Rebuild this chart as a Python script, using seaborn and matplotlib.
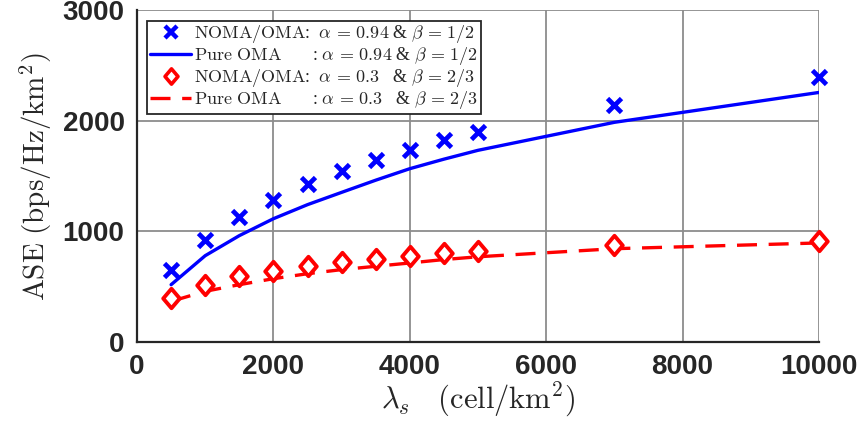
import numpy as np
import pandas as pd
import matplotlib
matplotlib.use("Agg")
import matplotlib.pyplot as plt
import seaborn as sns
from matplotlib.lines import Line2D
from matplotlib.path import Path

# Cell density (cells/km^2)
lam = [500, 1000, 1500, 2000, 2500, 3000, 3500, 4000, 4500, 5000, 7000, 10000]

# Area spectral efficiency, alpha = 0.94, beta = 1/2
noma_a94 = [647, 925, 1130, 1286, 1431, 1542, 1648, 1738, 1822, 1901, 2145, 2394]
oma_a94 = [518, 780, 961, 1114, 1241, 1352, 1462, 1566, 1652, 1732, 1985, 2255]

# Area spectral efficiency, alpha = 0.3, beta = 2/3
noma_a03 = [398, 512, 593, 639, 684, 720, 753, 780, 804, 819, 876, 916]
oma_a03 = [367, 458, 518, 572, 617, 654, 684, 714, 745, 770, 843, 895]

legend_labels = [
    r"$\mathrm{NOMA/OMA}$:  $\alpha\,=\,0.94$ & $\beta\,=\,1/2$",
    r"$\mathrm{Pure\ OMA}$       : $\alpha\,=\,0.94$ & $\beta\,=\,1/2$",
    r"$\mathrm{NOMA/OMA}$:  $\alpha\,=\,0.3$   & $\beta\,=\,2/3$",
    r"$\mathrm{Pure\ OMA}$       : $\alpha\,=\,0.3$   & $\beta\,=\,2/3$",
]

df = pd.DataFrame({"lam": lam, "noma_a94": noma_a94, "oma_a94": oma_a94,
                   "noma_a03": noma_a03, "oma_a03": oma_a03})

sns.set_style("white")
plt.rcParams["mathtext.fontset"] = "cm"
plt.rcParams["font.family"] = ["Liberation Sans", "DejaVu Sans"]

# slightly tall diamond outline
diamond = Path([(0, 1), (0.85, 0), (0, -1), (-0.85, 0), (0, 1)],
               [Path.MOVETO, Path.LINETO, Path.LINETO, Path.LINETO, Path.CLOSEPOLY])

fig = plt.figure(figsize=(8.59, 4.25), dpi=100)
ax = fig.add_axes([0.1595, 0.1953, 0.7939, 0.7812])

blue = "#0000ff"
red = "#ff0000"

sns.lineplot(data=df, x="lam", y="noma_a94", ax=ax, color=blue, linestyle="none",
             marker="x", markersize=10.5, markeredgewidth=3.4, markeredgecolor=blue,
             sort=False, clip_on=False)
sns.lineplot(data=df, x="lam", y="oma_a94", ax=ax, color=blue, linewidth=2.4, sort=False)
sns.lineplot(data=df, x="lam", y="oma_a03", ax=ax, color=red, linewidth=2.4,
             linestyle=(0, (6, 3.5)), sort=False)
sns.lineplot(data=df, x="lam", y="noma_a03", ax=ax, color=red, linestyle="none",
             marker=diamond, markersize=14, markeredgewidth=2.8, markerfacecolor="white",
             markeredgecolor=red, sort=False, clip_on=False)

ax.set_xlim(0, 10000)
ax.set_ylim(0, 3000)
ax.set_xticks([0, 2000, 4000, 6000, 8000, 10000])
ax.set_yticks([0, 1000, 2000, 3000])
ax.grid(True, color="#8c8c8c", linewidth=1.3)
ax.set_axisbelow(True)

for side in ["top", "right"]:
    ax.spines[side].set_visible(False)
for side in ["left", "bottom"]:
    ax.spines[side].set_color("#262626")
    ax.spines[side].set_linewidth(1.6)

ax.tick_params(axis="both", direction="in", length=6, width=1.3, color="#262626",
               labelsize=20, labelcolor="#262626", pad=9)
for lab in ax.get_xticklabels() + ax.get_yticklabels():
    lab.set_fontweight("bold")

ax.set_xlabel(r"$\lambda_s\ \ \ \mathrm{(cell/km^2)}$", fontsize=22, labelpad=0, color="#262626")
ax.set_ylabel(r"$\mathrm{ASE\ (bps/Hz/km^2)}$", fontsize=21, labelpad=6, color="#262626")

handles = [
    Line2D([], [], color=blue, linestyle="none", marker="x", markersize=8.5, markeredgewidth=3.2),
    Line2D([], [], color=blue, linewidth=2.4),
    Line2D([], [], color=red, linestyle="none", marker=diamond, markersize=11, markeredgewidth=2.6,
           markerfacecolor="white", markeredgecolor=red),
    Line2D([], [], color=red, linewidth=2.4, linestyle=(0, (6, 3.5))),
]
leg = ax.legend(handles, legend_labels, loc="upper left", bbox_to_anchor=(0.0147, 0.968),
                prop={"family": "Liberation Serif", "size": 13},
                frameon=True, fancybox=False, framealpha=1,
                edgecolor="#262626", handlelength=2.3, handletextpad=0.15,
                borderpad=0.15, labelspacing=0.0, borderaxespad=0)
leg.get_frame().set_linewidth(1.3)

fig.savefig("out.png", dpi=100)
